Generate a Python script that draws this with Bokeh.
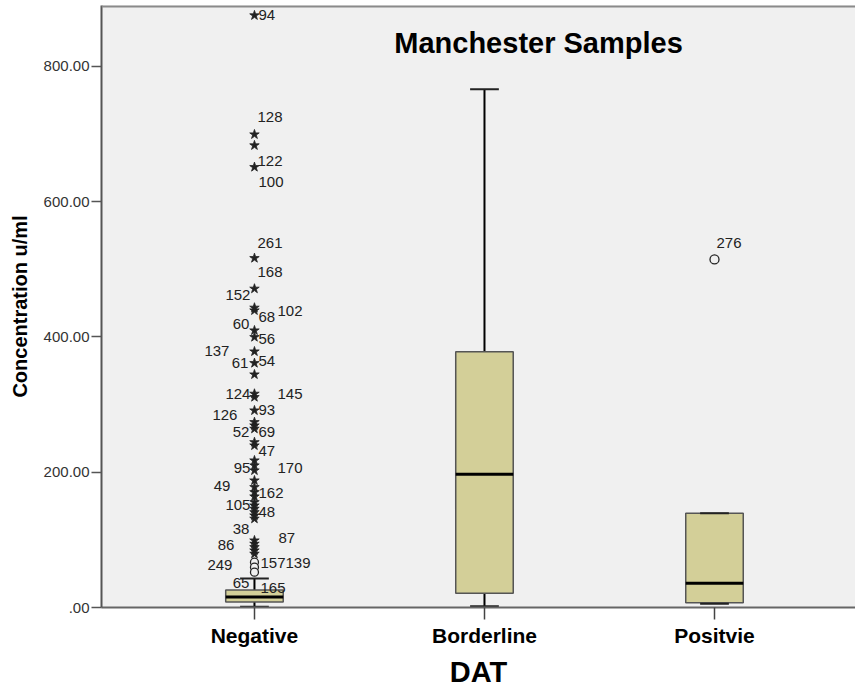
from bokeh.plotting import figure
from bokeh.models import Range1d, FixedTicker, ColumnDataSource, Label, Span
from bokeh.embed import file_html
from bokeh.resources import INLINE
from bokeh.core.properties import value

# ---------------- data ----------------
categories = ["Negative", "Borderline", "Positvie"]
positions = [1, 2, 3]
lower_whisker = [1.0, 2.0, 5.5]
q1 = [8.0, 21.0, 7.0]
median = [15.5, 197.0, 36.0]
q3 = [26.0, 378.0, 139.5]
upper_whisker = [43.0, 766.0, 139.5]

# Negative group: extreme values (stars) and outliers (circles)
neg_extremes = [875.4, 699.4, 683.2, 651.1, 516.5, 471.3, 443.2, 439.2, 409.6, 399.7,
                378.5, 361.3, 344.5, 316.0, 311.0, 291.3, 274.0, 269.1, 264.2, 244.4,
                239.5, 217.4, 210.0, 202.6, 187.8, 177.9, 170.5, 164.1, 155.7, 150.8,
                145.9, 140.9, 136.0, 131.2, 99.1, 94.2, 89.2, 84.3, 79.4]
neg_outliers = [67.0, 59.6, 52.2]
pos_outliers = [514.6]

# case labels: (case id, value of the point it labels)
right_ids = ["94", "128", "122", "100", "261", "168", "102", "68", "56", "54", "145",
             "93", "69", "47", "170", "162", "48", "87", "157", "139", "165"]
right_vals = [875.4, 699.4, 683.2, 651.1, 516.5, 516.5, 443.2, 439.2, 399.7, 361.3, 316.0,
              291.3, 264.2, 239.5, 202.6, 170.5, 140.9, 99.1, 67.0, 67.0, 52.2]
left_ids = ["152", "60", "137", "61", "124", "126", "52", "95", "49", "105", "38", "86",
            "249", "65"]
left_vals = [471.3, 409.6, 378.5, 361.3, 311.0, 291.3, 264.2, 202.6, 187.8, 150.8, 131.2,
             94.2, 59.6, 52.2]
pos_ids = ["276"]
pos_vals = [514.6]

# ---------------- layout of labels (pixels) ----------------
right_dx = [4, 3, 3, 4, 3, 3, 23, 4, 4, 4, 23, 4, 4, 4, 23, 4, 4, 24, 6, 31, 6]
right_dy = [0, -17, 16, 15, -15, 14, 3, 7, 2, -2, 0, 0, 3, 5, -2, 1, 0, -2, 1, 1, 16]
left_dx = [-4, -5, -25, -6, -4, -17, -5, -4, -24, -4, -5, -20, -22, -5]
left_dy = [6, -6, 0, 0, -3, 5, 3, -2, 6, 0, 10, 1, -2, 11]

FONT = "Liberation Sans"
BOX_FILL = "#D3CF98"

p = figure(width=855, height=690, output_backend="svg", toolbar_location=None,
           x_range=Range1d(0.335, 3.613), y_range=Range1d(0, 890),
           min_border_left=101, min_border_top=5, min_border_bottom=83, min_border_right=0,
           background_fill_color="#F0F0F0", border_fill_color="white")
p.outline_line_color = None
p.xgrid.visible = False
p.ygrid.visible = False

src = ColumnDataSource(dict(
    x=positions, lo=lower_whisker, q1=q1, med=median, q3=q3, hi=upper_whisker,
    xl=[x - 0.125 for x in positions], xr=[x + 0.125 for x in positions],
    cl=[x - 0.0625 for x in positions], cr=[x + 0.0625 for x in positions],
))

# whiskers
p.segment(x0="x", y0="q3", x1="x", y1="hi", source=src, line_color="black", line_width=2)
p.segment(x0="x", y0="q1", x1="x", y1="lo", source=src, line_color="black", line_width=2)
# boxes
p.vbar(x="x", width=0.25, bottom="q1", top="q3", source=src, fill_color=BOX_FILL,
       line_color="#555555", line_width=1.5)
# medians
p.segment(x0="xl", y0="med", x1="xr", y1="med", source=src, line_color="black", line_width=3)
# caps
p.segment(x0="cl", y0="hi", x1="cr", y1="hi", source=src, line_color="#222222", line_width=2)
p.segment(x0="cl", y0="lo", x1="cr", y1="lo", source=src, line_color="#222222", line_width=2)

# extremes (stars) and outliers (circles)
p.scatter(x=[1] * len(neg_extremes), y=neg_extremes, marker="star", size=10,
          fill_color="#222222", line_color="#222222", line_width=0.8)
p.scatter(x=[1] * len(neg_outliers), y=neg_outliers, marker="circle", size=8,
          fill_color="#F0F0F0", line_color="#222222", line_width=1.3)
p.scatter(x=[3] * len(pos_outliers), y=pos_outliers, marker="circle", size=9,
          fill_color="#F0F0F0", line_color="#222222", line_width=1.3)

# case labels
p.text(x=[1] * len(right_ids), y=right_vals, text=right_ids, x_offset=right_dx, y_offset=right_dy,
       text_font=value(FONT), text_font_size="15px", text_color="#222222",
       text_align="left", text_baseline="middle")
p.text(x=[1] * len(left_ids), y=left_vals, text=left_ids, x_offset=left_dx, y_offset=left_dy,
       text_font=value(FONT), text_font_size="15px", text_color="#222222",
       text_align="right", text_baseline="middle")
p.text(x=[3] * len(pos_ids), y=pos_vals, text=pos_ids, x_offset=[2], y_offset=[-16],
       text_font=value(FONT), text_font_size="15px", text_color="#222222",
       text_align="left", text_baseline="middle")

# title inside the frame
p.add_layout(Label(x=2.235, y=834, text="Manchester Samples", text_font=FONT,
                   text_font_size="29px", text_font_style="bold", text_color="black",
                   text_align="center", text_baseline="middle"))

# top border line
p.add_layout(Span(location=890, dimension="width", line_color="#8A8A8A", line_width=4))

# axes
ya = p.yaxis[0]
ya.ticker = FixedTicker(ticks=[0, 200, 400, 600, 800])
ya.major_label_overrides = {0: ".00", 200: "200.00", 400: "400.00", 600: "600.00", 800: "800.00"}
ya.axis_label = "Concentration u/ml"
ya.axis_label_text_font = FONT
ya.axis_label_text_font_size = "20px"
ya.axis_label_text_font_style = "bold"
ya.axis_label_text_color = "black"
ya.axis_label_standoff = 10
ya.major_label_text_font = FONT
ya.major_label_text_font_size = "15px"
ya.major_label_text_color = "#333333"
ya.major_label_standoff = 2
ya.major_tick_out = 10
ya.major_tick_in = 0
ya.minor_tick_line_color = None
ya.axis_line_color = "#555555"
ya.axis_line_width = 2
ya.major_tick_line_color = "#555555"
ya.major_tick_line_width = 1.5

xa = p.xaxis[0]
xa.ticker = FixedTicker(ticks=positions)
xa.major_label_overrides = {pos: cat for pos, cat in zip(positions, categories)}
xa.axis_label = "DAT"
xa.axis_label_text_font = FONT
xa.axis_label_text_font_size = "29px"
xa.axis_label_text_font_style = "bold"
xa.axis_label_text_color = "black"
xa.axis_label_standoff = 6
xa.major_label_text_font = FONT
xa.major_label_text_font_size = "21px"
xa.major_label_text_font_style = "bold"
xa.major_label_text_color = "black"
xa.major_label_standoff = 4
xa.major_tick_out = 12
xa.major_tick_in = 0
xa.minor_tick_line_color = None
xa.axis_line_color = "#666666"
xa.axis_line_width = 2
xa.major_tick_line_color = "#444444"
xa.major_tick_line_width = 1.5

open("out.html", "w").write(file_html(p, INLINE))
